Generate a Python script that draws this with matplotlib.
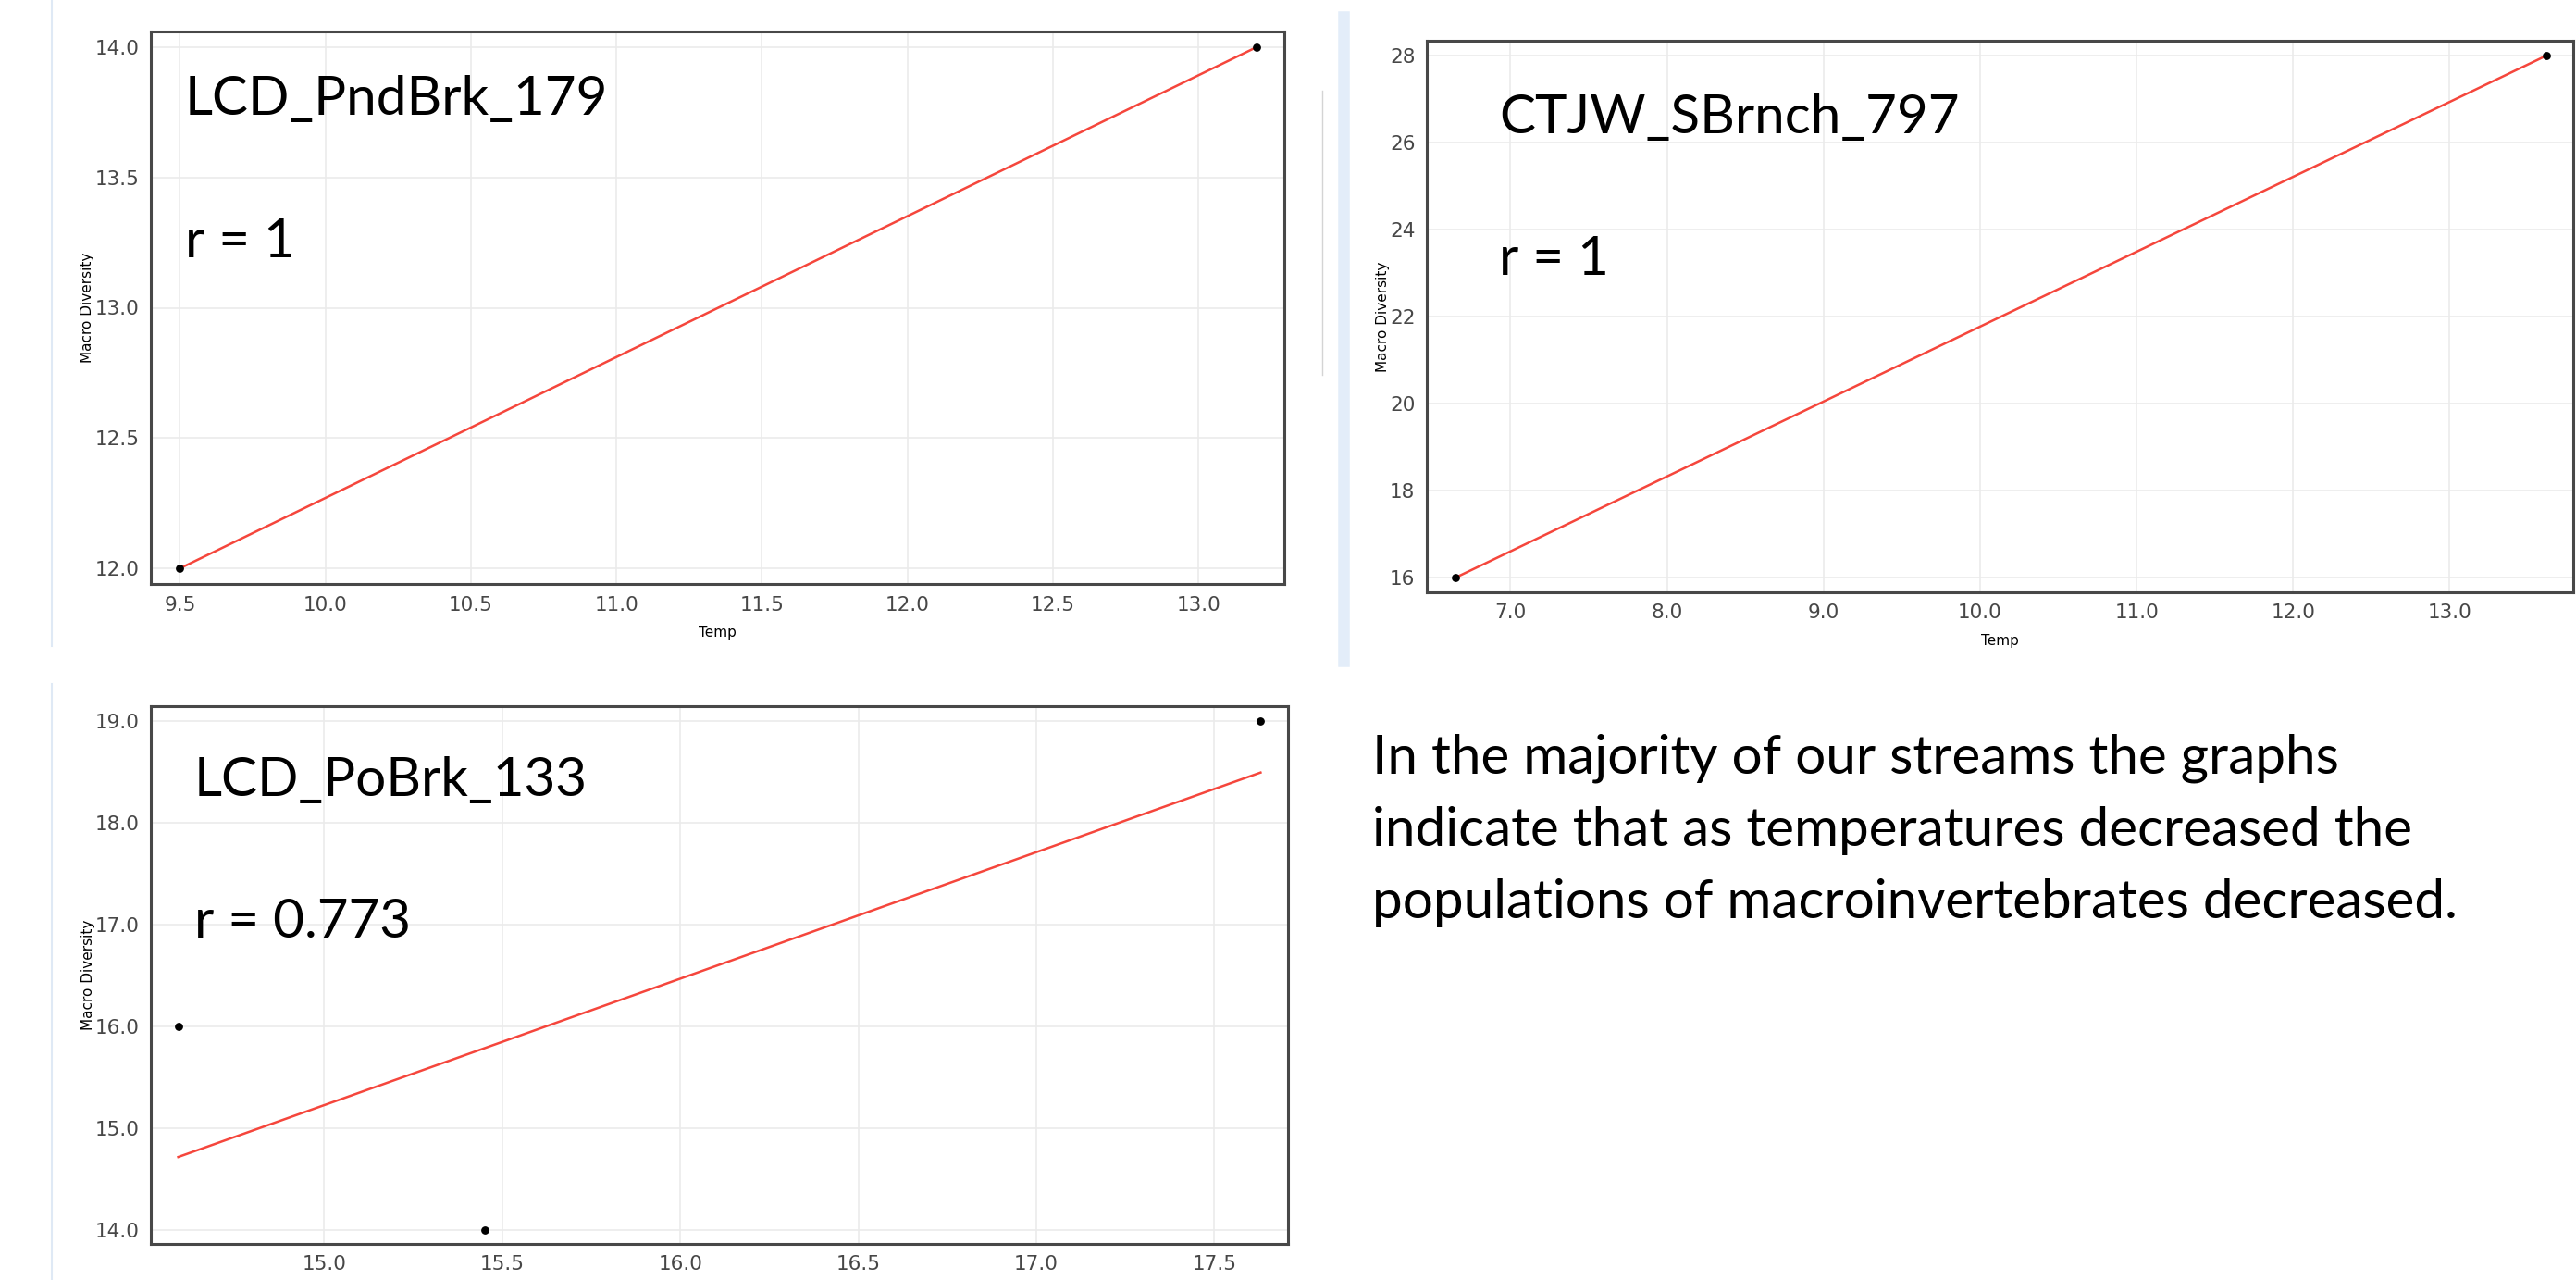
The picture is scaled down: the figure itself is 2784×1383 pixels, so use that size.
import numpy as np
import matplotlib
matplotlib.use('Agg')
import matplotlib.pyplot as plt
from matplotlib.lines import Line2D
from matplotlib.ticker import MultipleLocator, FormatStrFormatter

# data
temp_pndbrk = [9.5, 13.2]
div_pndbrk = [12, 14]
temp_sbrnch = [6.65, 13.62]
div_sbrnch = [16, 28]
temp_pobrk = [14.59, 15.45, 17.63]
div_pobrk = [16, 14, 19]

site_names = ['LCD_PndBrk_179', 'CTJW_SBrnch_797', 'LCD_PoBrk_133']
r_texts = ['r = 1', 'r = 1', 'r = 0.773']
note_lines = ['In the majority of our streams the graphs',
              'indicate that as temperatures decreased the',
              'populations of macroinvertebrates decreased.']

W, H = 2784, 1383
fig = plt.figure(figsize=(W / 100, H / 100), dpi=100)
fig.patch.set_facecolor('white')

def fx(px):
    return px / W

def fy(py):
    return 1 - py / H

def box(l, t, r, b):
    return [fx(l), fy(b), (r - l) / W, (b - t) / H]

big = dict(family=['Lato', 'DejaVu Sans'], fontsize=42, color='black')

def draw_panel(rect, xs, ys, xlim, ylim, xstep, ystep, xfmt, yfmt, xlabel=True):
    ax = fig.add_axes(rect)
    ax.set_xlim(*xlim)
    ax.set_ylim(*ylim)
    ax.xaxis.set_major_locator(MultipleLocator(xstep))
    ax.yaxis.set_major_locator(MultipleLocator(ystep))
    ax.xaxis.set_major_formatter(FormatStrFormatter(xfmt))
    ax.yaxis.set_major_formatter(FormatStrFormatter(yfmt))
    ax.grid(True, color='#ebebeb', linewidth=1.2)
    ax.set_axisbelow(True)
    for s in ax.spines.values():
        s.set_color('#484848')
        s.set_linewidth(2.2)
    ax.tick_params(length=0, labelsize=15.5, labelcolor='#474747', pad=9)

    # least squares fit over the data range
    k, b = np.polyfit(xs, ys, 1)
    xx = np.array([min(xs), max(xs)])
    ax.plot(xx, k * xx + b, color='#f5463c', linewidth=1.8, zorder=2)
    ax.scatter(xs, ys, s=28, color='black', zorder=3)

    if xlabel:
        ax.set_xlabel('Temp', fontsize=11, labelpad=9)
    ax.set_ylabel('Macro Diversity', fontsize=11, labelpad=0)
    return ax

draw_panel(box(163, 34, 1388, 631), temp_pndbrk, div_pndbrk,
           (9.40, 13.295), (11.94, 14.06), 0.5, 0.5, '%.1f', '%.1f')
draw_panel(box(1542, 44, 2781, 640), temp_sbrnch, div_sbrnch,
           (6.465, 13.79), (15.66, 28.34), 1.0, 2, '%.1f', '%d')
# bottom panel: its x label falls below the slide edge in the original
draw_panel(box(163, 763, 1392, 1344), temp_pobrk, div_pobrk,
           (14.513, 17.707), (13.865, 19.146), 0.5, 1.0, '%.1f', '%.1f', xlabel=False)

# site names and correlation labels
fig.text(fx(200), fy(124), site_names[0], va='baseline', **big)
fig.text(fx(200), fy(278), r_texts[0], va='baseline', **big)
fig.text(fx(1620), fy(144), site_names[1], va='baseline', **big)
fig.text(fx(1620), fy(297), r_texts[1], va='baseline', **big)
fig.text(fx(210), fy(860), site_names[2], va='baseline', **big)
fig.text(fx(210), fy(1013), r_texts[2], va='baseline', **big)

# explanation on the right
for i, line in enumerate(note_lines):
    fig.text(fx(1483), fy(836 + 78 * i), line, va='baseline', **big)

# faint slide edges
fig.add_artist(Line2D([fx(56), fx(56)], [fy(0), fy(698)], transform=fig.transFigure,
                      color='#dfe9f5', linewidth=1.5))
fig.add_artist(Line2D([fx(56), fx(56)], [fy(739), fy(1383)], transform=fig.transFigure,
                      color='#dfe9f5', linewidth=1.5))
fig.add_artist(Line2D([fx(1452), fx(1452)], [fy(18), fy(714)], transform=fig.transFigure,
                      color='#e3edf9', linewidth=9))
fig.add_artist(Line2D([fx(1429), fx(1429)], [fy(98), fy(405)], transform=fig.transFigure,
                      color='#d4d4d4', linewidth=1))

fig.savefig('out.png', dpi=100)
